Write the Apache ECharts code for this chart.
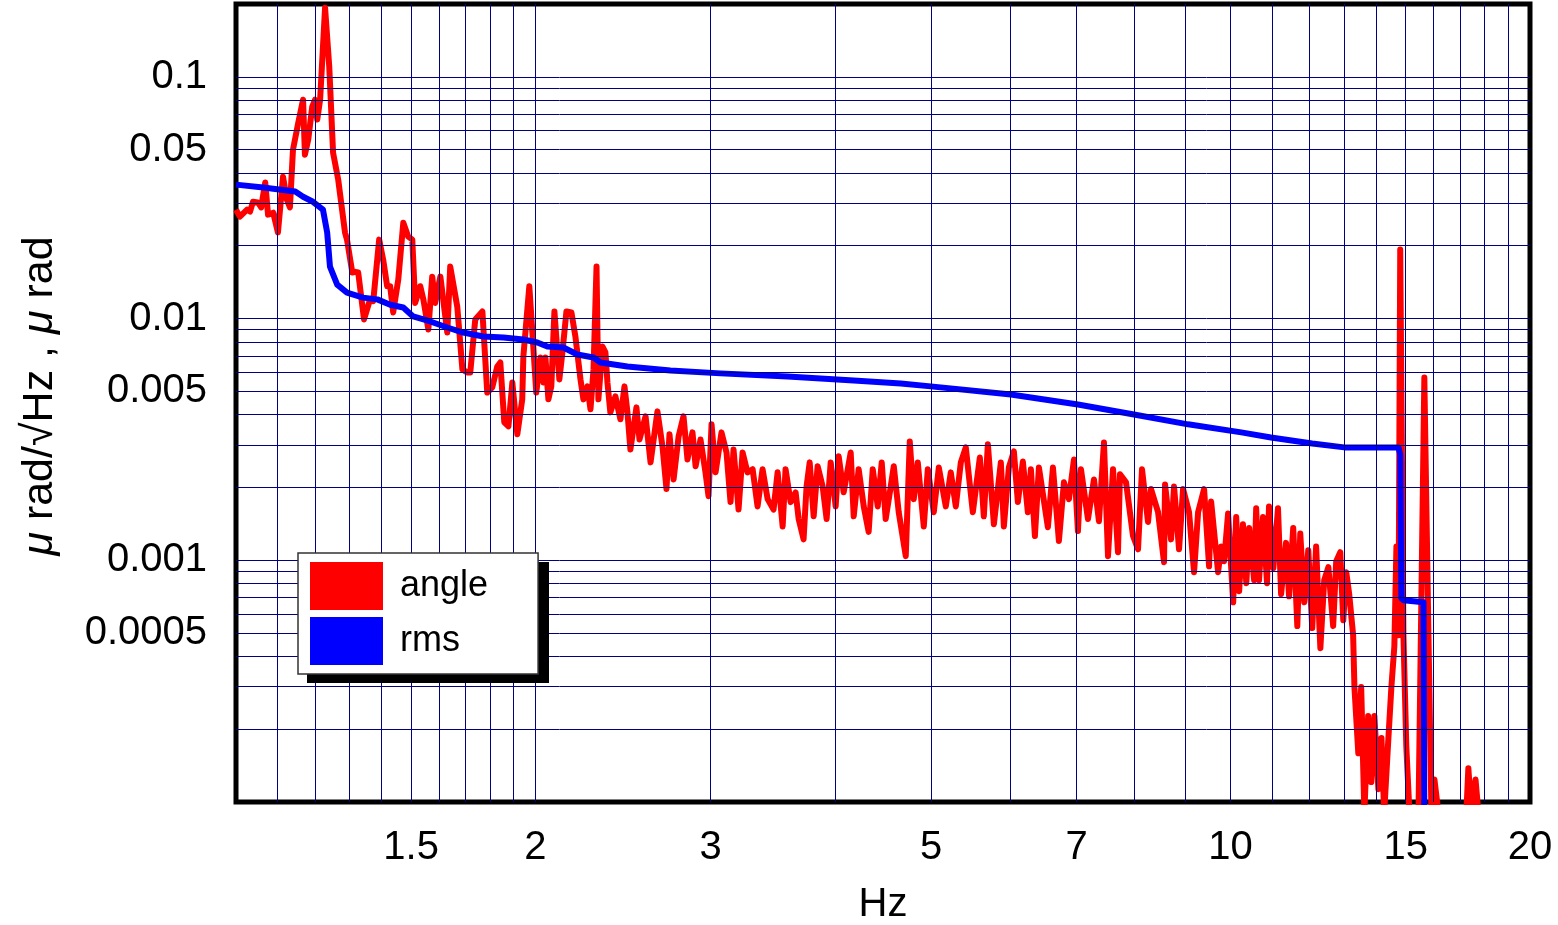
<!DOCTYPE html>
<html>
<head>
<meta charset="utf-8">
<title>angle / rms</title>
<script src="https://cdn.jsdelivr.net/npm/echarts@6.0.0/dist/echarts.min.js"></script>
<style>
  html, body { margin: 0; padding: 0; background: #fff; }
  #main { width: 1558px; height: 925px; }
</style>
</head>
<body>
<div id="main"></div>
<script>
// tick labels
const xTicks = [1.5, 2, 3, 5, 7, 10, 15, 20];
const yTicks = [0.1, 0.05, 0.01, 0.005, 0.001, 0.0005];
const yTickLabels = ['0.1', '0.05', '0.01', '0.005', '0.001', '0.0005'];

// grid lines (1-2-3... in each decade)
const xGridVals = [1.1, 1.2, 1.3, 1.4, 1.5, 1.6, 1.7, 1.8, 1.9, 2, 3, 4, 5, 6, 7, 8, 9,
  10, 11, 12, 13, 14, 15, 16, 17, 18, 19];
const yGridVals = [0.0002, 0.0003, 0.0004, 0.0005, 0.0006, 0.0007, 0.0008, 0.0009,
  0.001, 0.002, 0.003, 0.004, 0.005, 0.006, 0.007, 0.008, 0.009,
  0.01, 0.02, 0.03, 0.04, 0.05, 0.06, 0.07, 0.08, 0.09, 0.1];

// angle (red)
const angleHz = [
  1.000, 1.009, 1.026, 1.033, 1.040, 1.052, 1.060, 1.070, 1.077, 1.090,
  1.102, 1.115, 1.125, 1.133, 1.141, 1.155, 1.168, 1.173, 1.182, 1.193,
  1.201, 1.207, 1.215, 1.229, 1.241, 1.252, 1.267, 1.287, 1.293, 1.309,
  1.318, 1.327, 1.345, 1.364, 1.374, 1.393, 1.406, 1.419, 1.429, 1.439,
  1.456, 1.473, 1.490, 1.504, 1.514, 1.532, 1.543, 1.561, 1.575, 1.586,
  1.605, 1.631, 1.642, 1.669, 1.689, 1.708, 1.720, 1.740, 1.769, 1.789,
  1.810, 1.831, 1.844, 1.861, 1.879, 1.896, 1.918, 1.940, 1.945, 1.972,
  1.986, 2.004,
  2.023, 2.037, 2.047, 2.061, 2.075, 2.090, 2.114, 2.129, 2.149, 2.174,
  2.194, 2.204, 2.220, 2.235, 2.256, 2.272, 2.288, 2.304, 2.314, 2.336,
  2.352, 2.363, 2.379, 2.407, 2.435, 2.458, 2.475, 2.492, 2.527, 2.545,
  2.581, 2.611, 2.653, 2.684, 2.709, 2.728, 2.754, 2.786, 2.818, 2.844,
  2.877, 2.898, 2.931, 2.965, 2.986, 3.007, 3.035, 3.077, 3.113, 3.142,
  3.164, 3.201, 3.231, 3.268, 3.307, 3.345, 3.384, 3.424, 3.471, 3.504,
  3.545, 3.569, 3.611, 3.653, 3.679, 3.721, 3.747, 3.774, 3.809, 3.844,
  3.889, 3.925, 3.962, 4.008, 4.036, 4.083, 4.150, 4.179, 4.227, 4.277,
  4.326, 4.367, 4.418, 4.459, 4.500, 4.553, 4.585, 4.638,
  4.714, 4.758, 4.802, 4.847, 4.915, 4.961, 5.030, 5.089, 5.172, 5.232,
  5.293, 5.355, 5.417, 5.506, 5.596, 5.648, 5.701, 5.781, 5.875, 5.916,
  5.985, 6.055, 6.111, 6.182, 6.254, 6.298, 6.357, 6.416, 6.551, 6.628,
  6.720, 6.799, 6.878, 6.958, 7.023, 7.072, 7.188, 7.288, 7.373, 7.459,
  7.529, 7.617, 7.705, 7.741, 7.850, 7.978, 8.071, 8.146, 8.260, 8.318,
  8.454, 8.572, 8.592, 8.712, 8.773, 8.875, 8.958, 9.083, 9.189, 9.275,
  9.405, 9.514, 9.559, 9.715,
  9.783, 9.851, 9.942, 10.06, 10.13, 10.20, 10.29, 10.37, 10.44, 10.56,
  10.61, 10.68, 10.78, 10.88, 10.93, 11.04, 11.16, 11.24, 11.37, 11.45,
  11.56, 11.67, 11.75, 11.86, 11.97, 12.08, 12.19, 12.31, 12.42, 12.54,
  12.68, 12.77, 12.89, 12.98, 13.07, 13.16, 13.28, 13.32, 13.44, 13.53,
  13.63, 13.75, 13.85, 13.95, 14.08, 14.18, 14.27, 14.41, 14.51, 14.61,
  14.68, 14.75, 14.81, 14.92, 15.02, 15.13, 15.45, 15.66, 15.81, 15.92,
  16.03, 16.18, 16.67, 17.26, 17.34, 17.46, 17.63, 17.75, 18.71, 20.0
];
const angleVal = [
  0.0282, 0.0264, 0.0282, 0.0277, 0.0304, 0.0302, 0.0288, 0.0365, 0.0269, 0.0274,
  0.0227, 0.0386, 0.0310, 0.0288, 0.0499, 0.0645, 0.0804, 0.0476, 0.0549, 0.0752,
  0.0804, 0.0665, 0.0804, 0.193, 0.110, 0.0485, 0.0375, 0.0227, 0.0212, 0.0155,
  0.0156, 0.0155, 0.00991, 0.0120, 0.0118, 0.0212, 0.0175, 0.0136, 0.0136, 0.0106,
  0.0145, 0.0249, 0.0218, 0.0212, 0.0116, 0.0136, 0.0120, 0.00901, 0.0149, 0.0116,
  0.0149, 0.00875, 0.0164, 0.0112, 0.00616, 0.00598, 0.00598, 0.00991, 0.0107, 0.00494,
  0.00519, 0.00633, 0.00658, 0.00372, 0.00358, 0.00544, 0.00332, 0.00463, 0.00697, 0.0136,
  0.00875, 0.00494,
  0.00690, 0.00544, 0.00690, 0.00463, 0.00524, 0.0107, 0.00560, 0.00724, 0.0107, 0.0106,
  0.00843, 0.00859, 0.00560, 0.00463, 0.00524, 0.00421, 0.00616, 0.0164, 0.00463, 0.00766,
  0.00724, 0.00544, 0.00409, 0.00476, 0.00383, 0.00524, 0.00409, 0.00287, 0.00429, 0.00316,
  0.00394, 0.00254, 0.00413, 0.00296, 0.00197, 0.00332, 0.00216, 0.00325, 0.00394, 0.00261,
  0.00338, 0.00245, 0.00316, 0.00231, 0.00184, 0.00365, 0.00231, 0.00338, 0.00279, 0.00174,
  0.00287, 0.00162, 0.00279, 0.00231, 0.00238, 0.00167, 0.00238, 0.00179, 0.00162, 0.00231,
  0.00138, 0.00238, 0.00174, 0.00191, 0.00148, 0.00122, 0.00202, 0.00254, 0.00152, 0.00245,
  0.00202, 0.00148, 0.00254, 0.00167, 0.00269, 0.00191, 0.00279, 0.00152, 0.00238, 0.00167,
  0.00131, 0.00238, 0.00167, 0.00254, 0.00148, 0.00202, 0.00245, 0.00158,
  0.00104, 0.00310, 0.00179, 0.00254, 0.00138, 0.00238, 0.00158, 0.00242, 0.00167, 0.00231,
  0.00167, 0.00254, 0.00293, 0.00158, 0.00266, 0.00152, 0.00302, 0.00141, 0.00254, 0.00138,
  0.00242, 0.00282, 0.00174, 0.00256, 0.00158, 0.00238, 0.00126, 0.00242, 0.00137, 0.00242,
  0.00120, 0.00210, 0.00179, 0.00261, 0.00132, 0.00238, 0.00148, 0.00216, 0.00145, 0.00307,
  0.00104, 0.00238, 0.00108, 0.00227, 0.00210, 0.00126, 0.00111, 0.00238, 0.00144, 0.00197,
  0.00158, 0.000981, 0.00206, 0.00122, 0.00202, 0.00111, 0.00197, 0.00158, 0.000892, 0.00158,
  0.00197, 0.000944, 0.00175, 0.000892,
  0.00114, 0.000991, 0.00156, 0.000670, 0.00151, 0.000745, 0.00141, 0.000804, 0.00136, 0.000827,
  0.00164, 0.000827, 0.00151, 0.000804, 0.00167, 0.000927, 0.00164, 0.000724, 0.00118, 0.000710,
  0.00136, 0.000534, 0.00129, 0.000670, 0.00110, 0.000524, 0.00114, 0.000433, 0.000827, 0.000936,
  0.000534, 0.000991, 0.00108, 0.000565, 0.000892, 0.000724, 0.000490, 0.000299, 0.000159, 0.000299,
  0.00009, 0.000227, 0.000121, 0.000227, 0.000113, 0.000184, 0.00009, 0.000184, 0.000299, 0.000441,
  0.00114, 0.000490, 0.0193, 0.000490, 0.000170, 0.00009, 0.00009, 0.00570, 0.000490, 0.00009,
  0.000124, 0.00009, 0.00008, 0.00009, 0.000138, 0.00009, 0.000124, 0.00009, 0.00007, 0.00007
];

// rms (blue)
const rmsHz = [1.000, 1.065, 1.147, 1.168, 1.195, 1.223, 1.235, 1.243, 1.264, 1.293,
  1.342, 1.387, 1.429, 1.473, 1.507, 1.568, 1.631, 1.692, 1.773, 1.857,
  1.945, 2.009, 2.056, 2.134, 2.204, 2.288, 2.325, 2.475, 2.734, 3.070,
  3.586, 4.179, 4.660, 4.995, 6.013, 7.023, 7.996, 9.062, 10.25, 10.98,
  12.08, 13.01, 14.75, 14.81, 14.85, 14.92, 15.63, 15.66, 15.70];
const rmsVal = [0.0358, 0.0348, 0.0335, 0.0319, 0.0304, 0.0282, 0.0227, 0.0164, 0.0138, 0.0128,
  0.0122, 0.0120, 0.0114, 0.0111, 0.0102, 0.00972, 0.00918, 0.00875, 0.00843, 0.00835,
  0.00819, 0.00796, 0.00766, 0.00759, 0.00710, 0.00690, 0.00658, 0.00633, 0.00610, 0.00593,
  0.00576, 0.00554, 0.00539, 0.00524, 0.00485, 0.00441, 0.00401, 0.00365, 0.00338, 0.00322,
  0.00304, 0.00293, 0.00293, 0.00274, 0.000697, 0.000683, 0.000670, 0.00009, 0.00005];

const font = '"Liberation Sans", Arial, sans-serif';

const zip = (xs, ys) => xs.map((x, i) => [x, ys[i]]);

// 找最接近的刻度标签，避免浮点误差
const pickLabel = (v, vals, labels) => {
  const i = vals.findIndex(t => Math.abs(t - v) / t < 1e-6);
  return i >= 0 ? labels[i] : '';
};

const gridLine = { color: '#000080', width: 1, type: 'solid' };

// legend box position / size (also used for its drop shadow)
const legendBox = { x: 298, y: 553, w: 242, h: 121 };

const chart = echarts.init(document.getElementById('main'));
chart.setOption({
  animation: false,
  backgroundColor: '#fff',
  grid: {
    left: 236, right: 28, top: 4, bottom: 123,
    outerBoundsMode: 'none', containLabel: false,
    show: true, borderColor: '#000', borderWidth: 5, backgroundColor: 'transparent'
  },
  // 图例的黑色阴影
  graphic: [{
    type: 'rect', z: 6, silent: true,
    shape: { x: legendBox.x + 9, y: legendBox.y + 9, width: legendBox.w, height: legendBox.h },
    style: { fill: '#000' }
  }],
  legend: {
    orient: 'vertical',
    left: legendBox.x, top: legendBox.y, z: 7,
    data: ['angle', 'rms'],
    icon: 'rect',
    itemWidth: 73, itemHeight: 48, itemGap: 7,
    padding: [9, 50, 9, 12],
    backgroundColor: '#fff',
    borderColor: '#333', borderWidth: 1.5,
    selectedMode: false,
    textStyle: { fontSize: 36, fontFamily: font, color: '#000', padding: [0, 0, 0, 12] }
  },
  xAxis: {
    type: 'log', logBase: 10, min: 1, max: 20,
    name: 'Hz', nameLocation: 'middle', nameGap: 83,
    nameTextStyle: { fontSize: 40, fontFamily: font, color: '#000' },
    axisLine: { show: false },
    axisTick: { show: false },
    splitLine: { show: false },
    axisLabel: {
      customValues: xTicks,
      fontSize: 40, fontFamily: font, color: '#000', margin: 26,
      formatter: v => pickLabel(v, xTicks, xTicks.map(String))
    }
  },
  yAxis: {
    type: 'log', logBase: 10, min: 0.0001, max: 0.2,
    name: '{i|μ} rad/√Hz , {i|μ} rad', nameLocation: 'middle', nameGap: 174, nameRotate: 90,
    nameTextStyle: {
      fontSize: 43, fontFamily: font, color: '#000', padding: [0, 0, 0, 14],
      rich: { i: { fontSize: 43, fontFamily: font, fontStyle: 'italic', color: '#000' } }
    },
    axisLine: { show: false },
    axisTick: { show: false },
    splitLine: { show: false },
    axisLabel: {
      customValues: yTicks,
      fontSize: 40, fontFamily: font, color: '#000', margin: 29, padding: [6, 0, 0, 0],
      formatter: v => pickLabel(v, yTicks, yTickLabels)
    }
  },
  series: [
    {
      // 网格线
      name: 'grid', type: 'line', data: [[1, 0.0001]], showSymbol: false, z: 1,
      lineStyle: { opacity: 0 },
      markLine: {
        silent: true, symbol: ['none', 'none'], label: { show: false },
        precision: 8,
        animation: false, lineStyle: gridLine,
        data: xGridVals.map(v => ({ xAxis: v })).concat(yGridVals.map(v => ({ yAxis: v })))
      }
    },
    {
      name: 'angle', type: 'line', data: zip(angleHz, angleVal),
      showSymbol: false, z: 3,
      itemStyle: { color: '#ff0000' },
      lineStyle: { color: '#ff0000', width: 6, join: 'round' }
    },
    {
      name: 'rms', type: 'line', data: zip(rmsHz, rmsVal),
      showSymbol: false, z: 4,
      itemStyle: { color: '#0000ff' },
      lineStyle: { color: '#0000ff', width: 6, join: 'round' }
    }
  ]
});
</script>
</body>
</html>
